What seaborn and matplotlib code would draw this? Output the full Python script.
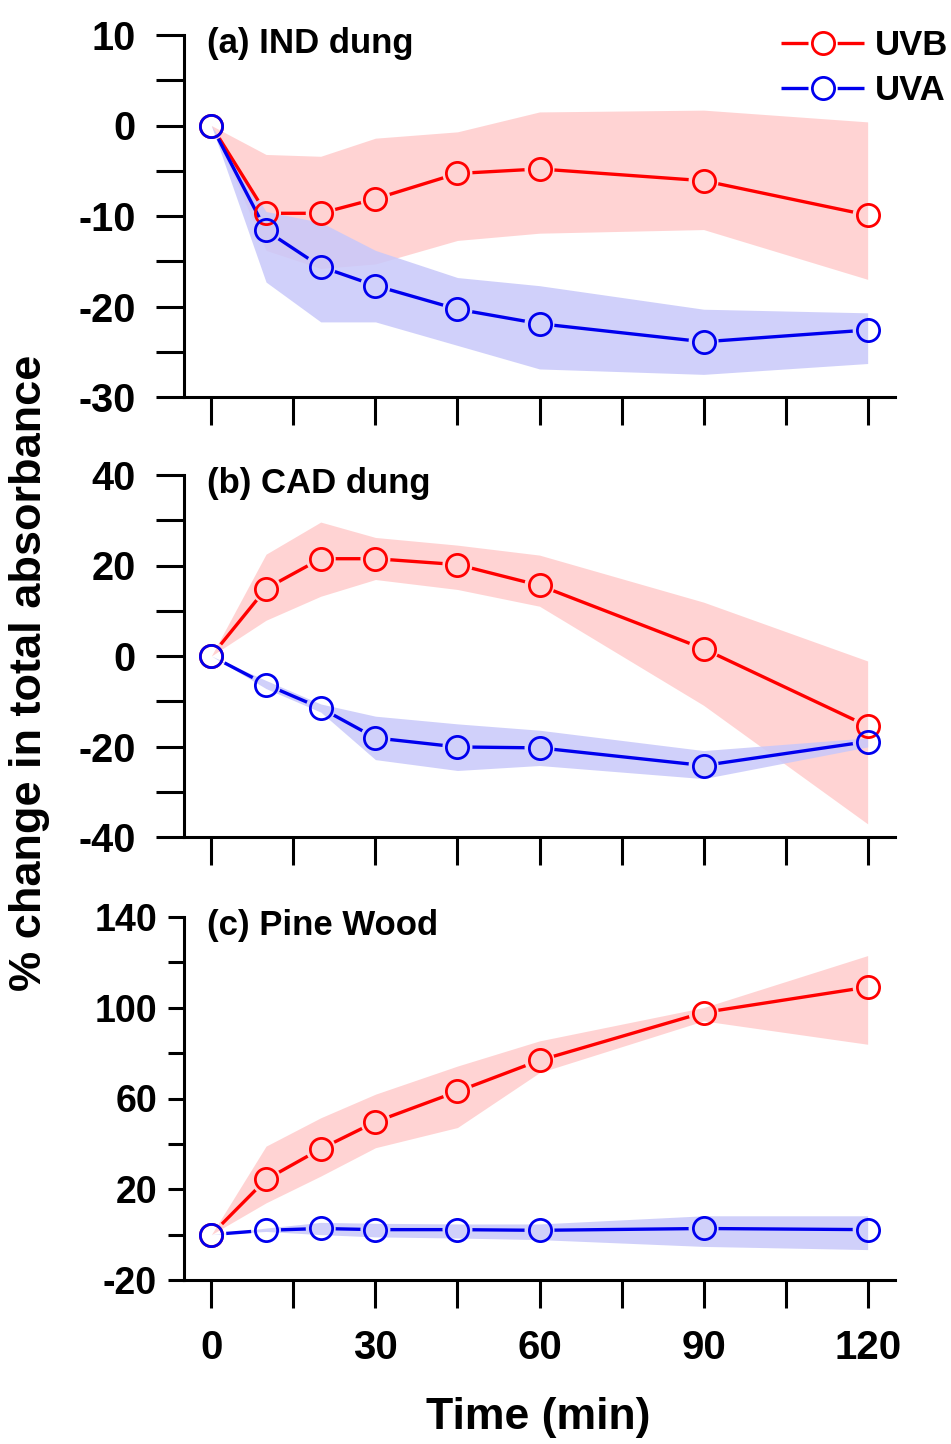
import numpy as np
import pandas as pd
import matplotlib
matplotlib.use("Agg")
import matplotlib.pyplot as plt
import seaborn as sns
from matplotlib.path import Path
from matplotlib.transforms import IdentityTransform
from matplotlib.lines import Line2D

# ---------------- data ----------------
time_min = [0, 10, 20, 30, 45, 60, 90, 120]

a_uvb = [0, -9.7, -9.7, -8.1, -5.3, -4.8, -6.1, -9.9]
a_uvb_hi = [0, -3.2, -3.4, -1.4, -0.7, 1.5, 1.7, 0.4]
a_uvb_lo = [0, -13.8, -15.8, -15.3, -12.7, -11.9, -11.5, -17.0]
a_uva = [0, -11.6, -15.6, -17.7, -20.3, -21.9, -23.9, -22.6]
a_uva_hi = [0, -9.5, -10.7, -13.8, -16.8, -17.7, -20.3, -20.7]
a_uva_lo = [0, -17.3, -21.7, -21.7, -24.3, -26.9, -27.5, -26.3]

b_uvb = [0, 14.9, 21.5, 21.5, 20.2, 15.6, 1.6, -15.5]
b_uvb_hi = [0, 22.5, 29.6, 26.2, 24.5, 22.3, 11.9, -1.1]
b_uvb_lo = [0, 7.9, 13.2, 16.9, 14.7, 11.0, -10.9, -37.1]
b_uva = [0, -6.3, -11.5, -18.1, -20.1, -20.3, -24.2, -18.9]
b_uva_hi = [0, -5.4, -10.6, -13.3, -15.0, -16.4, -20.9, -18.1]
b_uva_lo = [0, -7.2, -12.4, -22.9, -25.3, -24.2, -27.1, -20.1]

c_uvb = [0, 24.3, 37.8, 49.7, 63.1, 76.8, 97.9, 109.1]
c_uvb_hi = [0, 39.0, 51.5, 61.9, 74.3, 85.4, 100.1, 123.0]
c_uvb_lo = [0, 14.0, 25.8, 38.3, 47.2, 71.4, 94.2, 83.9]
c_uva = [0, 1.9, 2.7, 2.2, 2.2, 1.9, 2.7, 2.2]
c_uva_hi = [0, 2.9, 5.4, 5.0, 4.7, 4.7, 8.3, 8.3]
c_uva_lo = [0, 1.4, 0.0, -1.0, -1.5, -2.2, -5.2, -6.6]

panel_titles = ["(a) IND dung", "(b) CAD dung", "(c) Pine Wood"]
a_yticks = [-30, -20, -10, 0, 10]
a_yminor = [-30, -25, -20, -15, -10, -5, 0, 5, 10]
b_yticks = [-40, -20, 0, 20, 40]
b_yminor = [-40, -30, -20, -10, 0, 10, 20, 30, 40]
c_yticks = [-20, 20, 60, 100, 140]
c_yminor = [-20, 0, 20, 40, 60, 80, 100, 120, 140]
x_ticks = [0, 30, 60, 90, 120]
x_minor = [15, 45, 75, 105]
series_names = ["UVB", "UVA"]
series_colors = ["#FF0000", "#0000EE"]
band_colors = ["#FFCCCC", "#C8C8FA"]

# ---------------- style ----------------
sns.set_style("ticks")
plt.rcParams["font.family"] = ["Liberation Sans", "DejaVu Sans"]
plt.rcParams["font.weight"] = "bold"
plt.rcParams["axes.linewidth"] = 2.2
plt.rcParams["axes.unicode_minus"] = False
for k in ["text.color", "axes.labelcolor", "xtick.color", "ytick.color",
          "axes.edgecolor"]:
    plt.rcParams[k] = "black"

W_PX, H_PX = 951, 1444
fig = plt.figure(figsize=(W_PX / 100, H_PX / 100), dpi=100)

left = 184 / W_PX
width = (895 - 184) / W_PX
rects = [
    (left, 1 - 397 / H_PX, width, 362 / H_PX),
    (left, 1 - 837 / H_PX, width, 362 / H_PX),
    (left, 1 - 1280 / H_PX, width, 363 / H_PX),
]
panels = [
    (a_uvb, a_uvb_hi, a_uvb_lo, a_uva, a_uva_hi, a_uva_lo, a_yticks, a_yminor, 20, 15, 28.5),
    (b_uvb, b_uvb_hi, b_uvb_lo, b_uva, b_uva_hi, b_uva_lo, b_yticks, b_yminor, 20, 15, 28.5),
    (c_uvb, c_uvb_hi, c_uvb_lo, c_uva, c_uva_hi, c_uva_lo, c_yticks, c_yminor, 11.5, 8, 27),
]


def clip_gaps(ax, line, xs, ys, r=15):
    pts = ax.transData.transform(np.column_stack([xs, ys]))
    W, H = fig.bbox.width, fig.bbox.height
    verts = [(0, 0), (0, H), (W, H), (W, 0), (0, 0)]
    codes = [Path.MOVETO] + [Path.LINETO] * 3 + [Path.CLOSEPOLY]
    theta = np.linspace(0, 2 * np.pi, 49)
    for px, py in pts:
        cv = np.column_stack([px + r * np.cos(theta), py + r * np.sin(theta)])
        verts += [tuple(v) for v in cv]
        codes += [Path.MOVETO] + [Path.LINETO] * (len(theta) - 2) + [Path.CLOSEPOLY]
    line.set_clip_path(Path(verts, codes), IdentityTransform())


for i, (rect, p, title) in enumerate(zip(rects, panels, panel_titles)):
    uvb, uvb_hi, uvb_lo, uva, uva_hi, uva_lo, yt, ym, ylen, ypad, ysize = p
    ax = fig.add_axes(rect)
    ax.set_xlim(-5, 125)
    ax.set_ylim(yt[0], yt[-1])

    df = pd.DataFrame({"t": time_min, "UVB": uvb, "UVA": uva})
    for (hi, lo), bc in zip([(uvb_hi, uvb_lo), (uva_hi, uva_lo)], band_colors):
        ax.fill_between(time_min, lo, hi, color=bc, alpha=0.85, lw=0, zorder=1)

    for name, col in zip(series_names, series_colors):
        sns.lineplot(data=df, x="t", y=name, color=col, lw=2.4, ax=ax,
                     legend=False, zorder=3)
        ln = ax.lines[-1]
        clip_gaps(ax, ln, time_min, df[name].values, r=15)
        ax.plot(df["t"], df[name], linestyle="none", marker="o",
                markersize=16, markerfacecolor="none", markeredgecolor=col,
                markeredgewidth=2.0, zorder=4)

    ax.set_yticks(yt)
    ax.set_yticks(ym, minor=True)
    ax.set_xticks(x_ticks)
    ax.set_xticks(x_minor, minor=True)
    ax.tick_params(axis="y", which="both", direction="out", length=ylen,
                   width=2.2, pad=ypad, labelsize=ysize)
    ax.tick_params(axis="x", which="both", direction="out", length=20,
                   width=2.2, pad=15, labelsize=29)
    if i < 2:
        ax.tick_params(axis="x", labelbottom=False)
    for lab in ax.get_yticklabels() + ax.get_xticklabels():
        lab.set_fontweight("bold")
    ax.set_xlabel("")
    ax.set_ylabel("")
    sns.despine(ax=ax)
    ax.text(23 / 711, 1 - 8 / 362, title, transform=ax.transAxes,
            ha="left", va="center", fontsize=25, fontweight="bold")

handles = [Line2D([], [], color=c, lw=2.4, linestyle=(0, (8.1, 8.75)),
                  marker="o", ms=16, mfc="white", mec=c, mew=2.0)
           for c in series_colors]
fig.legend(handles, series_names, loc="upper right",
           bbox_to_anchor=(948 / W_PX, 1 - 29 / H_PX), frameon=False,
           handlelength=2.4, handletextpad=0.3,
           labelspacing=0.36, borderpad=0, borderaxespad=0,
           prop={"weight": "bold", "size": 25})

fig.text(30 / W_PX, 1 - 673 / H_PX, "% change in total absorbance",
         rotation=90, ha="center", va="center", fontsize=32.5, fontweight="bold")
fig.text(538 / W_PX, 1 - 1417 / H_PX, "Time (min)", ha="center",
         va="center", fontsize=32, fontweight="bold")

fig.savefig("out.png", dpi=100)
